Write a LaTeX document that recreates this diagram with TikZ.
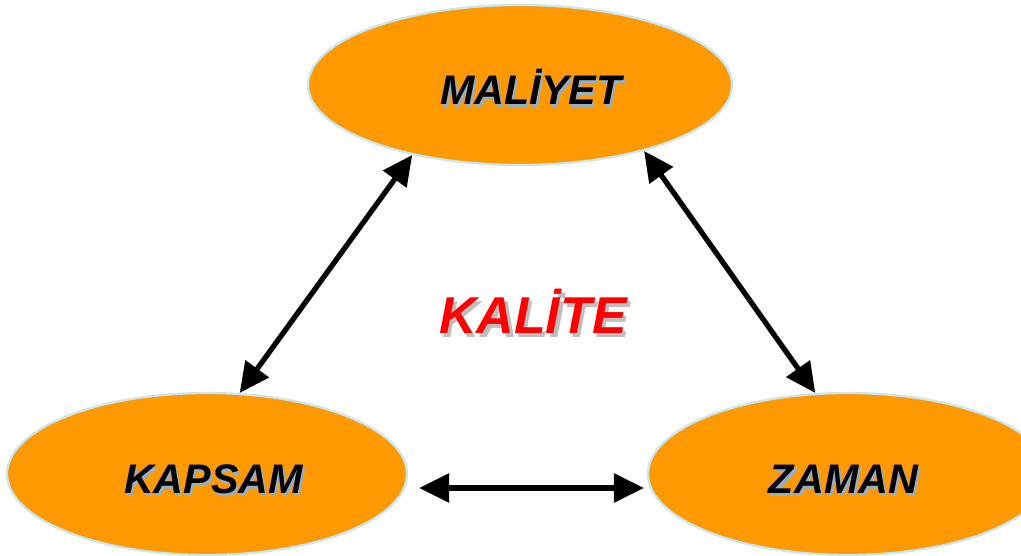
\documentclass[tikz,border=0pt]{standalone}
\usepackage{fontspec}
\setmainfont{Liberation Sans}
\usetikzlibrary{shapes.geometric, arrows.meta}
\definecolor{ovalorange}{RGB}{255,153,0}
\definecolor{rimblue}{RGB}{200,230,245}
\definecolor{shadeblue}{RGB}{150,175,195}
\definecolor{shadegrey}{RGB}{190,190,190}
\definecolor{kalitered}{RGB}{255,0,0}
% text with a small drop shadow under it
\newcommand{\shadowtext}[4]{\makebox[0pt][l]{\kern#4\raisebox{-#4}{\textcolor{#1}{#3}}}\textcolor{#2}{#3}}

\begin{document}
\begin{tikzpicture}[
  oval/.style = {ellipse, fill = ovalorange, draw = rimblue, line width = 1.3pt, inner sep = 0pt,
    minimum width = 8cm, minimum height = 3.24cm, text height = 0.8cm, text depth = 0cm,
    font = \fontsize{23.5}{28}\selectfont\bfseries\itshape},
  link/.style = {line width = 3pt, {Triangle[length = 17pt, width = 16pt]}-{Triangle[length = 17pt, width = 16pt]}}
]
\useasboundingbox (0, 0) rectangle (20.42, 11.12);
\clip (0, 0) rectangle (20.42, 11.12);
\node [oval, minimum width = 8.48cm, minimum height = 3.2cm] (mal) at (10.40, 9.42) {\hspace*{0.44cm}\shadowtext{shadeblue}{black}{MALİYET}{1.2pt}};
\node [oval] (kap) at (4.14, 1.64) {\hspace*{0.26cm}\shadowtext{shadeblue}{black}{KAPSAM}{1.2pt}};
\node [oval] (zam) at (16.96, 1.64) {\shadowtext{shadeblue}{black}{ZAMAN}{1.2pt}\hspace*{0.18cm}};
\node [inner sep = 0pt, text height = 0.74cm, text depth = 0cm, font = \fontsize{29.5}{34}\selectfont\bfseries\itshape] (kal) at (10.66, 4.82) {\shadowtext{shadegrey}{kalitered}{KALİTE}{2pt}};
\draw [link] (mal.213) -- (kap.68);
\draw [link] (mal.332) -- (zam.112);
\draw [link] ([shift = {(0.22, -0.28)}]kap.east) -- ([shift = {(-0.06, -0.28)}]zam.west);
\end{tikzpicture}
\end{document}
